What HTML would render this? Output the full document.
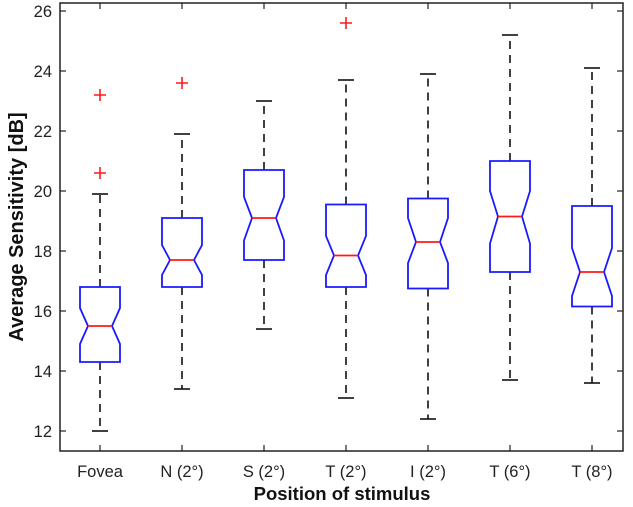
<!DOCTYPE html>
<html><head><meta charset="utf-8"><style>
body{margin:0;background:#fff;}
svg{display:block;font-family:"Liberation Sans",sans-serif;}
</style></head><body>
<svg id="chart" width="633" height="507" viewBox="0 0 633 507">
<rect x="0" y="0" width="633" height="507" fill="#fff"/>
<g id="plot"></g>
<text transform="translate(23,227) rotate(-90)" text-anchor="middle" font-size="20" font-weight="bold" fill="#111">Average Sensitivity [dB]</text>
<text x="342" y="500" text-anchor="middle" font-size="18.5" font-weight="bold" fill="#111">Position of stimulus</text>
</svg>
<script>
const categories=["Fovea","N (2°)","S (2°)","T (2°)","I (2°)","T (6°)","T (8°)"];
const whiskerLow=[12.0,13.4,15.4,13.1,12.4,13.7,13.6];
const q1=[14.3,16.8,17.7,16.8,16.75,17.3,16.15];
const medians=[15.5,17.7,19.1,17.85,18.3,19.15,17.3];
const q3=[16.8,19.1,20.7,19.55,19.75,21.0,19.5];
const whiskerHigh=[19.9,21.9,23.0,23.7,23.9,25.2,24.1];
const notchLow=[14.9,17.2,18.35,17.2,17.6,18.25,16.5];
const notchHigh=[16.1,18.2,19.8,18.5,19.1,20.0,18.1];
const outliers=[[20.6,23.2],[23.6],[],[25.6],[],[],[]];
const yTicks=[12,14,16,18,20,22,24,26];

const NS="http://www.w3.org/2000/svg";
const L=60,R=623,T=3,B=451;
const y=v=>431-(v-12)*30;
const x=i=>100+i*82;
const g=document.getElementById('plot');
function mk(tag,attrs){const e=document.createElementNS(NS,tag);for(const k in attrs)e.setAttribute(k,attrs[k]);g.appendChild(e);return e;}

const frame=mk('rect',{x:L,y:T,width:R-L,height:B-T,fill:'none',stroke:'#222','stroke-width':1.5});



yTicks.forEach(t=>{
  const tk=mk('line',{x1:L,x2:L+6,y1:y(t),y2:y(t),stroke:'#222','stroke-width':1.2});
  
  
  const tk2=mk('line',{x1:R-6,x2:R,y1:y(t),y2:y(t),stroke:'#222','stroke-width':1.2});
  
  
  const lb=mk('text',{x:L-8,y:y(t)+6,'text-anchor':'end','font-size':16.5,fill:'#222'});
  lb.textContent=t;
  
  
});

categories.forEach((c,i)=>{
  const cx=x(i),hw=20,ni=8,cap=8;
  const tk=mk('line',{x1:cx,x2:cx,y1:B,y2:B-6,stroke:'#222','stroke-width':1.2});
  
  
  const tkt=mk('line',{x1:cx,x2:cx,y1:T,y2:T+6,stroke:'#222','stroke-width':1.2});
  
  
  const lb=mk('text',{x:cx,y:477,'text-anchor':'middle','font-size':16.5,fill:'#222'});
  lb.textContent=c;
  
  
  const w1=mk('line',{x1:cx,x2:cx,y1:y(q3[i]),y2:y(whiskerHigh[i]),stroke:'#111','stroke-width':1.6,'stroke-dasharray':'8,6'});
  
  
  const w2=mk('line',{x1:cx,x2:cx,y1:y(q1[i]),y2:y(whiskerLow[i]),stroke:'#111','stroke-width':1.6,'stroke-dasharray':'8,6'});
  
  
  const c1=mk('line',{x1:cx-cap,x2:cx+cap,y1:y(whiskerHigh[i]),y2:y(whiskerHigh[i]),stroke:'#111','stroke-width':1.6});
  
  
  const c2=mk('line',{x1:cx-cap,x2:cx+cap,y1:y(whiskerLow[i]),y2:y(whiskerLow[i]),stroke:'#111','stroke-width':1.6});
  
  
  const pts=[[cx-hw,y(q1[i])],[cx+hw,y(q1[i])],[cx+hw,y(notchLow[i])],[cx+hw-ni,y(medians[i])],[cx+hw,y(notchHigh[i])],[cx+hw,y(q3[i])],[cx-hw,y(q3[i])],[cx-hw,y(notchHigh[i])],[cx-hw+ni,y(medians[i])],[cx-hw,y(notchLow[i])]];
  const bx=mk('polygon',{points:pts.map(p=>p.join(',')).join(' '),fill:'#fff',stroke:'#1a1aff','stroke-width':1.8});
  
  
  const md=mk('line',{x1:cx-hw+ni,x2:cx+hw-ni,y1:y(medians[i]),y2:y(medians[i]),stroke:'#ff1a1a','stroke-width':1.8});
  
  
  outliers[i].forEach(v=>{
    const o=mk('path',{d:`M${cx-6},${y(v)}H${cx+6}M${cx},${y(v)-6}V${y(v)+6}`,stroke:'#ff1a1a','stroke-width':1.6,fill:'none'});
    
    
  });
});
</script>
</body></html>
